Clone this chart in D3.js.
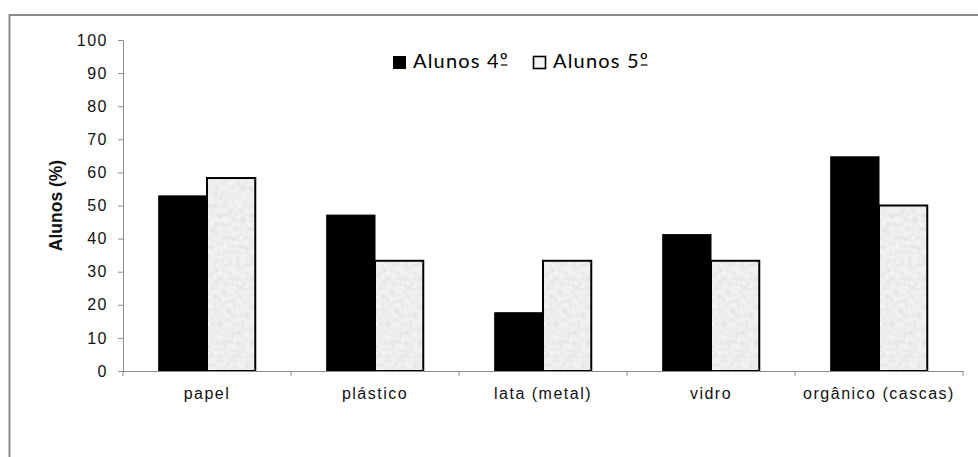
<!DOCTYPE html>
<html>
<head>
<meta charset="utf-8">
<script src="https://cdn.jsdelivr.net/npm/d3@7"></script>
<style>
  html, body { margin: 0; padding: 0; background: #fff; }
  svg { display: block; }
</style>
</head>
<body>
<script>
// Percentage of students per type of waste
const categories = ["papel", "plástico", "lata (metal)", "vidro", "orgânico (cascas)"];
const seriesNames = ["Alunos 4º", "Alunos 5º"];
const alunos4 = [52.9, 47.1, 17.6, 41.2, 64.7];
const alunos5 = [58.3, 33.3, 33.3, 33.3, 50.0];
const yTicks = [0, 10, 20, 30, 40, 50, 60, 70, 80, 90, 100];

const W = 978, H = 457;
const margin = { left: 123, right: 15, top: 40, bottom: 86 };
const x0 = margin.left, x1 = W - margin.right;
const yTop = margin.top, yBottom = H - margin.bottom;

const axisFont = "'Liberation Sans', Arial, sans-serif";

const svg = d3.select("body").append("svg")
  .attr("width", W).attr("height", H);

// granite-like light fill for the second series
const defs = svg.append("defs");
const filt = defs.append("filter").attr("id", "grain")
  .attr("x", 0).attr("y", 0).attr("width", 1).attr("height", 1);
filt.append("feTurbulence").attr("type", "fractalNoise")
  .attr("baseFrequency", 0.22).attr("numOctaves", 3).attr("seed", 7).attr("result", "n");
filt.append("feColorMatrix").attr("in", "n").attr("type", "matrix")
  .attr("values", "0 0 0 0 0.70  0 0 0 0 0.70  0 0 0 0 0.70  0 0 0 -1.3 0.85")
  .attr("result", "spots");
filt.append("feComposite").attr("in", "spots").attr("in2", "SourceGraphic").attr("operator", "in").attr("result", "clip");
filt.append("feMerge").selectAll("feMergeNode").data(["SourceGraphic", "clip"]).join("feMergeNode").attr("in", d => d);

// outer frame
svg.append("rect")
  .attr("x", 9.5).attr("y", 15).attr("width", W + 20).attr("height", H + 20)
  .attr("fill", "none").attr("stroke", "#8c8c8c").attr("stroke-width", 2);

const x = d3.scaleBand().domain(categories).range([x0, x1]).paddingInner(0).paddingOuter(0);
const xs = d3.scaleBand().domain(seriesNames).range([0, x.bandwidth()]).paddingInner(0).paddingOuter(0.74);
const y = d3.scaleLinear().domain([0, 100]).range([yBottom, yTop]);

// y axis
const yAxis = svg.append("g").attr("transform", `translate(${x0},0)`)
  .call(d3.axisLeft(y).tickValues(yTicks).tickSize(5).tickSizeOuter(0).tickPadding(10));
yAxis.select(".domain").attr("stroke", "#8c8c8c");
yAxis.selectAll(".tick line").attr("stroke", "#8c8c8c");
yAxis.selectAll(".tick text").attr("fill", "#111")
  .style("font-family", axisFont).style("font-size", "16px").style("letter-spacing", "1.5px");

// bars
const rows = categories.map((c, i) => ({ c, vals: [alunos4[i], alunos5[i]] }));
const grp = svg.append("g").selectAll("g").data(rows).join("g")
  .attr("transform", d => `translate(${x(d.c)},0)`);
grp.append("rect")
  .attr("x", xs(seriesNames[0])).attr("width", xs.bandwidth())
  .attr("y", d => y(d.vals[0])).attr("height", d => y(0) - y(d.vals[0]))
  .attr("fill", "#000").attr("stroke", "#000").attr("stroke-width", 1);
grp.append("rect")
  .attr("x", xs(seriesNames[1])).attr("width", xs.bandwidth())
  .attr("y", d => y(d.vals[1])).attr("height", d => y(0) - y(d.vals[1]))
  .attr("fill", "#f2f2f2").attr("filter", "url(#grain)");
grp.append("rect")
  .attr("x", xs(seriesNames[1])).attr("width", xs.bandwidth())
  .attr("y", d => y(d.vals[1])).attr("height", d => y(0) - y(d.vals[1]))
  .attr("fill", "none").attr("stroke", "#000").attr("stroke-width", 2);

// x axis
const xAxis = svg.append("g").attr("transform", `translate(0,${yBottom})`)
  .call(d3.axisBottom(x).tickSize(0).tickSizeOuter(0).tickPadding(17));
xAxis.select(".domain").attr("stroke", "#8c8c8c");
xAxis.selectAll(".tick text").attr("fill", "#111")
  .style("font-family", axisFont).style("font-size", "16px").style("letter-spacing", "1.5px");
// category separators
svg.append("g").selectAll("line").data(categories.map(c => x(c) + x.bandwidth()).concat([x0]))
  .join("line")
  .attr("x1", d => d).attr("x2", d => d)
  .attr("y1", yBottom).attr("y2", yBottom + 5)
  .attr("stroke", "#8c8c8c");

// y axis title
svg.append("text")
  .attr("transform", `translate(62,${(yTop + yBottom) / 2}) rotate(-90)`)
  .attr("text-anchor", "middle")
  .style("font-family", axisFont).style("font-size", "17.5px").style("font-weight", "bold")
  .attr("fill", "#111")
  .text("Alunos (%)");

// legend
const legend = svg.append("g").attr("transform", "translate(393,56)");
const items = [{ name: seriesNames[0], dx: 0, dark: true }, { name: seriesNames[1], dx: 140, dark: false }];
const li = legend.selectAll("g").data(items).join("g").attr("transform", d => `translate(${d.dx},0)`);
li.append("rect").attr("x", 0.5).attr("y", 0.5).attr("width", 12).attr("height", 12)
  .attr("fill", d => d.dark ? "#000" : "#f3f3f3")
  .attr("stroke", "#000").attr("stroke-width", d => d.dark ? 1 : 1.6);
li.append("text").attr("x", 20).attr("y", 12)
  .style("font-family", "Lato, 'Open Sans', sans-serif").style("font-size", "20px")
  .style("letter-spacing", "1.2px")
  .attr("fill", "#000")
  .text(d => d.name);
// underline bar of the ordinal indicator "º"
li.each(function () {
  const g = d3.select(this);
  const t = g.select("text").node();
  const n = t.getNumberOfChars();
  const box = t.getExtentOfChar(n - 1);
  const w = box.width - 1.2;
  g.append("line")
    .attr("x1", box.x + 1).attr("x2", box.x + w - 0.5)
    .attr("y1", 9).attr("y2", 9)
    .attr("stroke", "#000").attr("stroke-width", 1.2);
});
</script>
</body>
</html>
